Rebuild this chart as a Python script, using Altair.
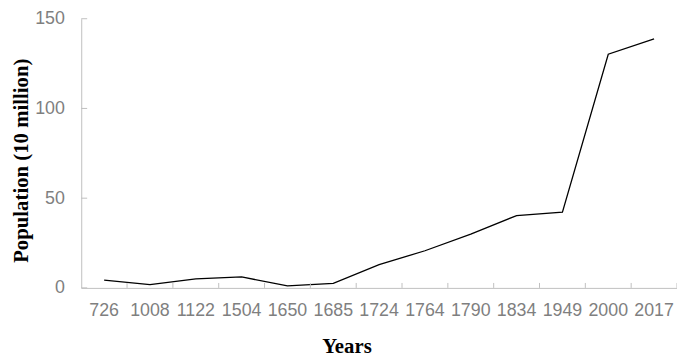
import altair as alt
import pandas as pd

years = ["726", "1008", "1122", "1504", "1650", "1685", "1724", "1764",
         "1790", "1834", "1949", "2000", "2017"]
population = [4.3, 1.8, 5.0, 6.1, 1.1, 2.5, 13.0, 20.7, 30.0, 40.3, 42.2, 130.2, 138.8]
y_ticks = [0, 50, 100, 150]

df = pd.DataFrame({"year": years, "value": population})
tick_df = pd.DataFrame({"value": y_ticks})

AXIS_GREY = "#bfbfbf"
LABEL_GREY = "#7f7f7f"
H = 272

xscale = alt.Scale(type="band", paddingInner=0, paddingOuter=0)
yscale = alt.Scale(domain=[0, 150], nice=False, zero=True)

x_axis = alt.Axis(
    title="Years", labelAngle=0, ticks=False, grid=False,
    domainColor=AXIS_GREY, domainWidth=1,
    labelColor=LABEL_GREY, labelFont="Liberation Sans", labelFontSize=18,
    labelPadding=14,
    titleFont="Liberation Serif", titleFontWeight="bold", titleFontSize=21,
    titleColor="black", titleX=268, titleY=65, titleBaseline="alphabetic",
    titleAlign="center",
)
y_axis = alt.Axis(
    title="Population (10 million)", values=y_ticks, ticks=False, grid=False,
    domainColor=AXIS_GREY, domainWidth=1,
    labelColor=LABEL_GREY, labelFont="Liberation Sans", labelFontSize=18,
    labelPadding=17,
    titleFont="Liberation Serif", titleFontWeight="bold", titleFontSize=21,
    titleColor="black", titleX=-54, titleY=143, titleBaseline="alphabetic",
    titleAlign="center",
)

line = alt.Chart(df).mark_line(color="black", strokeWidth=1.3).encode(
    x=alt.X("year:O", sort=years, scale=xscale, axis=x_axis, bandPosition=0.5),
    y=alt.Y("value:Q", scale=yscale, axis=y_axis),
)

x_ticks = alt.Chart(df).mark_rule(color=AXIS_GREY, strokeWidth=1).encode(
    x=alt.X("year:O", sort=years, scale=xscale, bandPosition=1),
    y=alt.value(H - 5),
    y2=alt.value(H),
)

y_tick_marks = alt.Chart(tick_df).mark_rule(color=AXIS_GREY, strokeWidth=1).encode(
    y=alt.Y("value:Q", scale=yscale),
    x=alt.value(0),
    x2=alt.value(6),
)

chart = alt.layer(line, x_ticks, y_tick_marks).properties(
    width=602, height=H,
    autosize=alt.AutoSizeParams(type="none"),
    padding={"left": 74, "top": 9, "right": 0, "bottom": 69},
).configure_view(stroke=None)

chart.save("out.html", embed_options={"renderer": "svg", "actions": False})
